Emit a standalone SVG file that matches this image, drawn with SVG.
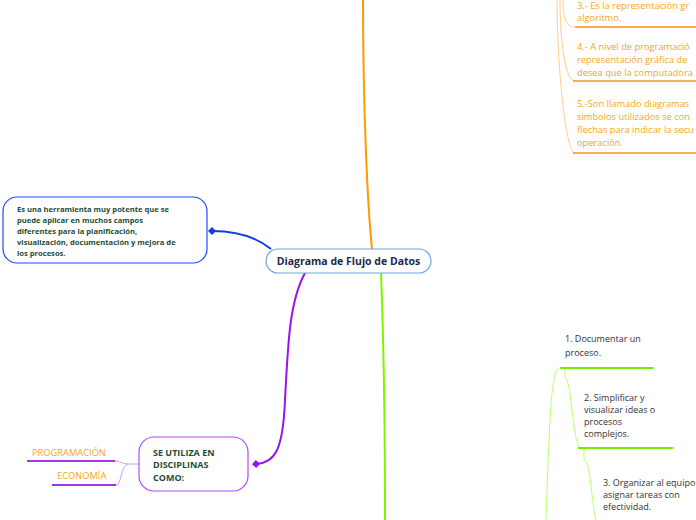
<svg xmlns="http://www.w3.org/2000/svg" width="696" height="520" viewBox="0 0 696 520">
<defs>
<style>
text{font-family:"Open Sans","Noto Sans","Liberation Sans",sans-serif}
.main{font-size:10.5px;font-weight:bold;fill:#1b2a4e}
.dk{font-size:7.6px;font-weight:bold;fill:#1e4d38}
.sub{font-size:9px;font-weight:bold;fill:#1e4d38}
.or{font-size:9.3px;fill:#f5a623}
.gr{font-size:9px;fill:#333}
.thinO{fill:none;stroke:#ffcf85;stroke-width:1}
.lineO{fill:none;stroke:#f7941d;stroke-width:1.5}
.thinG{fill:none;stroke:#b8ff70;stroke-width:1}
.lineG{fill:none;stroke:#77ee00;stroke-width:1.8}
.thinP{fill:none;stroke:#cf9cff;stroke-width:1}
.lineP{fill:none;stroke:#a332f0;stroke-width:1.8}
</style>
<marker id="dB" viewBox="0 0 10 10" refX="5" refY="5" markerWidth="4" markerHeight="4" orient="auto"><path d="M0,5 L5,0 L10,5 L5,10 Z" fill="#0d3fe6"/></marker>
<marker id="dP" viewBox="0 0 10 10" refX="5" refY="5" markerWidth="4" markerHeight="4" orient="auto"><path d="M0,5 L5,0 L10,5 L5,10 Z" fill="#9a12f0"/></marker>
</defs>
<g id="connectors">
<path d="M372,249 C367,200 363,100 363,0" fill="none" stroke="#ff9a00" stroke-width="2"/>
<path d="M271,249 C255,236 235,231 212,231" fill="none" stroke="#0d3fe6" stroke-width="2" marker-end="url(#dB)"/>
<path d="M305,273 C290,300 288,340 285,400 C283,450 275,463 256,464" fill="none" stroke="#9a12f0" stroke-width="2" marker-end="url(#dP)"/>
<path d="M381,273 C384,350 385,450 385,520" fill="none" stroke="#7cf500" stroke-width="2"/>
<path class="thinO" d="M563,0 C563,15 565,27 575,27"/>
<path class="thinO" d="M560,0 C560,40 565,81 575,81"/>
<path class="thinO" d="M557,0 C557,60 565,153 575,153"/>
<path class="lineO" d="M575,27 H696 M573,81 H696 M573,153 H696"/>
<path class="thinG" d="M560,368 C552,368 550,400 546,520"/>
<path class="thinG" d="M565,368 V378 C572,380 572,440 580,448"/>
<path class="thinG" d="M584,448 V460 C591,462 591,500 596,520"/>
<path class="lineG" d="M560,368 H653 M578,448 H673"/>
<path class="thinP" d="M139,464 H128 C122,464 120,461 115,461 M128,464 C120,466 122,485 116,485"/>
<path class="lineP" d="M27,461 H115 M52,485 H116"/>
</g>
<g id="central">
<rect x="266" y="249" width="165" height="24" rx="12" fill="#fff" stroke="#6fa8dc" stroke-width="1.2"/>
<text class="main" x="348.5" y="265" text-anchor="middle">Diagrama de Flujo de Datos</text>
</g>
<g id="herramienta">
<rect x="3" y="197" width="204" height="66" rx="14" fill="#fff" stroke="#1a4cff" stroke-width="1.2"/>
<text class="dk" x="17" y="212">Es una herramienta muy potente que se</text>
<text class="dk" x="17" y="223">puede aplicar en muchos campos</text>
<text class="dk" x="17" y="234">diferentes para la planificación,</text>
<text class="dk" x="17" y="245">visualización, documentación y mejora de</text>
<text class="dk" x="17" y="256">los procesos.</text>
</g>
<g id="disciplinas">
<rect x="139" y="437" width="109" height="54" rx="15" fill="#fff" stroke="#b04cff" stroke-width="1.2"/>
<text class="sub" x="153" y="456">SE UTILIZA EN</text>
<text class="sub" x="153" y="468">DISCIPLINAS</text>
<text class="sub" x="153" y="481">COMO:</text>
</g>
<g id="programacion"><text class="or" x="32" y="455.5">PROGRAMACIÓN</text></g>
<g id="economia"><text class="or" x="57" y="479">ECONOMÍA</text></g>
<g id="def3">
<text class="or" x="577" y="9">3.- Es la representación gr</text>
<text class="or" x="577" y="21">algoritmo.</text>
</g>
<g id="def4">
<text class="or" x="577" y="50">4.- A nivel de programació</text>
<text class="or" x="577" y="63">representación gráfica de</text>
<text class="or" x="577" y="76">desea que la computadora</text>
</g>
<g id="def5">
<text class="or" x="577" y="107">5.-Son llamado diagramas</text>
<text class="or" x="577" y="120">simbolos utilizados se con</text>
<text class="or" x="577" y="133">flechas para indicar la secu</text>
<text class="or" x="577" y="146">operación.</text>
</g>
<g id="uso1">
<text class="gr" x="565" y="342">1. Documentar un</text>
<text class="gr" x="565" y="356">proceso.</text>
</g>
<g id="uso2">
<text class="gr" x="584" y="401">2. Simplificar y</text>
<text class="gr" x="584" y="413">visualizar ideas o</text>
<text class="gr" x="584" y="425">procesos</text>
<text class="gr" x="584" y="437">complejos.</text>
</g>
<g id="uso3">
<text class="gr" x="603" y="486">3. Organizar al equipo</text>
<text class="gr" x="603" y="498">asignar tareas con</text>
<text class="gr" x="603" y="510">efectividad.</text>
</g>
</svg>
